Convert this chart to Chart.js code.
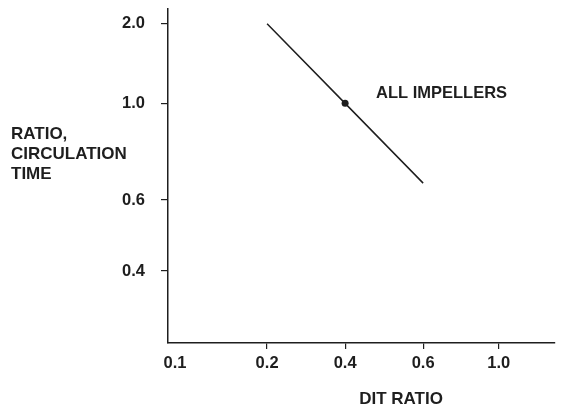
<!DOCTYPE html>
<html>
<head>
<meta charset="utf-8">
<script src="https://cdn.jsdelivr.net/npm/chart.js@4.4.0/dist/chart.umd.min.js"></script>
<style>
  body { margin: 0; background: #fff; }
  #wrap { width: 567px; height: 411px; position: relative; }
</style>
</head>
<body>
<div id="wrap"><canvas id="myChart"></canvas></div>
<script>
// tick labels on each axis
const xTicks = [0.1, 0.2, 0.4, 0.6, 1.0];
const yTicks = [0.4, 0.6, 1.0, 2.0];

// the "all impellers" line
const lineX = [0.2, 0.4, 0.6];
const lineY = [2.0, 1.0, 0.67];

// marked point on the line
const dotX = [0.4];
const dotY = [1.0];

// the drawing is a sketch, ticks are not evenly spaced in value:
// where each tick sits along its axis (in axis units)
const xTickPos = [0, 1.18, 2.18, 3.18, 4.15];
const yTickPos = [0, 0.91, 2.15, 3.17];

// piecewise map from a value to its place on the axis
function toPos(v, ticks, pos) {
   for (let i = 0; i < ticks.length - 1; i++) {
      if (v <= ticks[i + 1] || i === ticks.length - 2) {
         const f = (v - ticks[i]) / (ticks[i + 1] - ticks[i]);
         return pos[i] + f * (pos[i + 1] - pos[i]);
      }
   }
}

const font = "'Liberation Sans', Arial, Helvetica, sans-serif";
const ink = "#1e1e1e";

// axis titles and the line label
const textPlugin = {
   id: "sketchText",
   afterDraw(chart) {
      const ctx = chart.ctx;
      ctx.save();
      ctx.fillStyle = ink;
      ctx.textBaseline = "middle";
      ctx.textAlign = "left";
      ctx.font = "bold 17px " + font;
      ctx.fillText("RATIO,", 11, 134);
      ctx.fillText("CIRCULATION", 11, 154);
      ctx.fillText("TIME", 11, 174);
      ctx.font = "bold 16.5px " + font;
      ctx.fillText("ALL IMPELLERS", 376, 93);
      ctx.textAlign = "center";
      ctx.font = "bold 17px " + font;
      ctx.fillText("DIT RATIO", 401, 399);
      ctx.restore();
   },
};

const ctx = document.getElementById("myChart").getContext("2d");
const myChart = new Chart(ctx, {
   type: "line",
   data: {
      datasets: [
         {
            label: "All impellers",
            data: lineX.map((v, i) => ({ x: toPos(v, xTicks, xTickPos), y: toPos(lineY[i], yTicks, yTickPos) })),
            borderColor: ink,
            borderWidth: 1.5,
            pointRadius: 0,
            fill: false,
            tension: 0,
         },
         {
            label: "Point",
            data: dotX.map((v, i) => ({ x: toPos(v, xTicks, xTickPos), y: toPos(dotY[i], yTicks, yTickPos) })),
            showLine: false,
            pointRadius: 3.5,
            pointBackgroundColor: ink,
            pointBorderColor: ink,
            borderWidth: 0,
         },
      ],
   },
   options: {
      responsive: true,
      maintainAspectRatio: false,
      animation: false,
      layout: { padding: { top: 9, right: 12, left: 0, bottom: 0 } },
      plugins: { legend: { display: false }, tooltip: { enabled: false } },
      scales: {
         x: {
            type: "linear",
            min: -0.09,
            max: 4.87,
            afterBuildTicks: (scale) => { scale.ticks = xTickPos.map((v) => ({ value: v })); },
            afterFit: (scale) => {
               scale.height = 68;
               scale.paddingLeft = 0;
               scale.paddingRight = 0;
            },
            ticks: {
               callback: (value, index) => xTicks[index].toFixed(1),
               font: { family: font, size: 16.5, weight: "bold" },
               color: ink,
               padding: 5,
               maxRotation: 0,
               autoSkip: false,
            },
            grid: {
               drawOnChartArea: false,
               tickLength: 6,
               lineWidth: 1.2,
               color: (c) => (c.index === 0 ? "rgba(0,0,0,0)" : ink),
            },
            border: { display: true, color: ink, width: 1.5 },
         },
         y: {
            type: "linear",
            min: -0.923,
            max: 3.36,
            afterBuildTicks: (scale) => { scale.ticks = yTickPos.map((v) => ({ value: v })); },
            afterFit: (scale) => {
               scale.width = 168;
               scale.paddingTop = 0;
               scale.paddingBottom = 0;
            },
            ticks: {
               callback: (value, index) => yTicks[index].toFixed(1),
               font: { family: font, size: 16.5, weight: "bold" },
               color: ink,
               padding: 16,
               autoSkip: false,
            },
            grid: {
               drawOnChartArea: false,
               tickLength: 7,
               lineWidth: 1.2,
               color: ink,
            },
            border: { display: true, color: ink, width: 1.5 },
         },
      },
   },
   plugins: [textPlugin],
});
</script>
</body>
</html>
